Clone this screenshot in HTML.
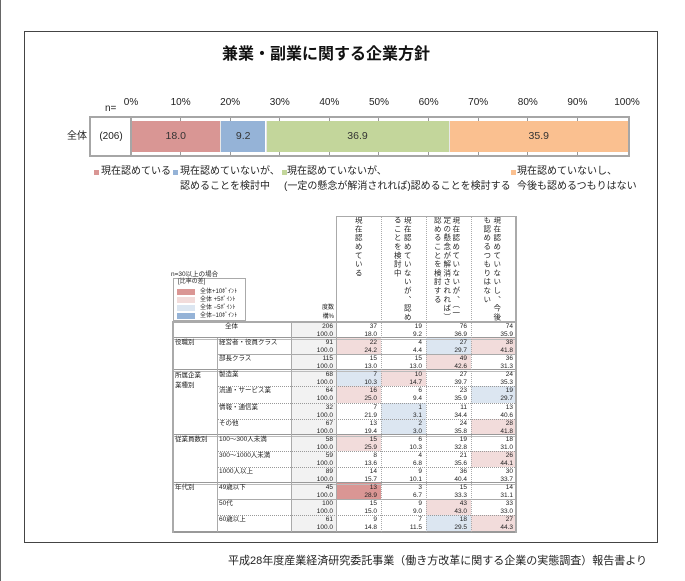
<!DOCTYPE html>
<html><head><meta charset="utf-8">
<style>
*{margin:0;padding:0;box-sizing:border-box}
body{width:685px;height:581px;background:#fff;overflow:hidden;font-family:"Liberation Sans","Noto Sans CJK JP",sans-serif;color:#222}
#pg{position:relative;width:685px;height:581px;overflow:hidden}
.a{position:absolute;white-space:nowrap}
.box{position:absolute;left:24px;top:31px;width:634px;height:512px;border:1px solid #444}
.pct{position:absolute;top:96px;width:40px;margin-left:-20px;text-align:center;font-size:10px;line-height:14px;color:#222}
.tk{position:absolute;width:1px;height:3px;background:#999}
.seg{position:absolute;top:121px;height:31px;font-size:10.5px;line-height:31px;text-align:center;color:#333}
.lg{position:absolute;font-size:10px;line-height:14px;color:#222;white-space:nowrap}
.sq{position:absolute;top:170px;width:5px;height:5px}
.s{position:absolute;font-size:6.5px;line-height:8px;white-space:nowrap;color:#222}
.n{position:absolute;font-size:6.5px;line-height:8px;text-align:right;white-space:nowrap;color:#222}
.v{position:absolute;top:216px;writing-mode:vertical-rl;font-size:7.5px;line-height:8px;width:8px;letter-spacing:1.3px;white-space:nowrap;color:#222}
.hl{position:absolute;height:0;border-top:1px dotted #999}
.dl{position:absolute;height:3px;border-top:1px solid #999;border-bottom:1px solid #bbb}
.vl{position:absolute;width:0}
.lp{position:absolute;background:#F2DCDB}
.lb{position:absolute;background:#DCE6F1}
.dp{position:absolute;background:#DA9694}
</style></head><body><div id="pg">
<div class="a" style="left:0;top:0;width:1px;height:581px;background:#666"></div>
<div class="box"></div>
<div class="a" style="left:0;width:652px;top:45px;text-align:center;font-size:16px;line-height:20px;font-weight:bold;color:#111">兼業・副業に関する企業方針</div>

<!-- bar chart -->
<div class="a" style="left:105px;top:102px;font-size:10px;line-height:14px">n=</div>
<div class="pct" style="left:131px">0%</div>
<div class="pct" style="left:180.6px">10%</div>
<div class="pct" style="left:230.2px">20%</div>
<div class="pct" style="left:279.8px">30%</div>
<div class="pct" style="left:329.4px">40%</div>
<div class="pct" style="left:379px">50%</div>
<div class="pct" style="left:428.6px">60%</div>
<div class="pct" style="left:478.2px">70%</div>
<div class="pct" style="left:527.8px">80%</div>
<div class="pct" style="left:577.4px">90%</div>
<div class="pct" style="left:627px">100%</div>

<div class="a" style="left:89px;top:116px;width:541px;height:41px;border:2px solid #A6A6A6;background:#fff"></div>
<div class="a" style="left:130px;top:116px;width:2px;height:41px;background:#A6A6A6"></div>
<div class="seg" style="left:131.6px;width:88.3px;background:#D99694">18.0</div>
<div class="seg" style="left:219.9px;width:45.6px;background:#95B3D7;border-left:1px solid #e8e8e8">9.2</div>
<div class="seg" style="left:265.5px;width:183px;background:#C3D69B;border-left:1px solid #e8e8e8">36.9</div>
<div class="seg" style="left:448.5px;width:179.5px;background:#FAC090;border-left:1px solid #e8e8e8">35.9</div>
<div class="tk" style="left:180px;top:118px"></div><div class="tk" style="left:180px;top:152px"></div>
<div class="tk" style="left:230px;top:118px"></div><div class="tk" style="left:230px;top:152px"></div>
<div class="tk" style="left:279px;top:118px"></div><div class="tk" style="left:279px;top:152px"></div>
<div class="tk" style="left:329px;top:118px"></div><div class="tk" style="left:329px;top:152px"></div>
<div class="tk" style="left:378px;top:118px"></div><div class="tk" style="left:378px;top:152px"></div>
<div class="tk" style="left:428px;top:118px"></div><div class="tk" style="left:428px;top:152px"></div>
<div class="tk" style="left:478px;top:118px"></div><div class="tk" style="left:478px;top:152px"></div>
<div class="tk" style="left:527px;top:118px"></div><div class="tk" style="left:527px;top:152px"></div>
<div class="tk" style="left:577px;top:118px"></div><div class="tk" style="left:577px;top:152px"></div>
<div class="a" style="left:67px;top:130px;font-size:10px;line-height:14px">全体</div>
<div class="a" style="left:92px;width:38px;top:130px;text-align:center;font-size:10px;line-height:14px">(206)</div>

<!-- legend -->
<div class="sq" style="left:94px;background:#D99694"></div>
<div class="lg" style="left:101px;top:165px">現在認めている</div>
<div class="sq" style="left:172.5px;background:#95B3D7"></div>
<div class="lg" style="left:180px;top:165px">現在認めていないが、</div>
<div class="lg" style="left:180px;top:180px">認めることを検討中</div>
<div class="sq" style="left:281.5px;background:#C3D69B"></div>
<div class="lg" style="left:287px;top:165px">現在認めていないが、</div>
<div class="lg" style="left:284px;top:180px">(一定の懸念が解消されれば)認めることを検討する</div>
<div class="sq" style="left:511px;background:#FAC090"></div>
<div class="lg" style="left:517px;top:165px">現在認めていないし、</div>
<div class="lg" style="left:517px;top:180px">今後も認めるつもりはない</div>

<!-- table legend -->
<div class="s" style="left:171px;top:271px">n=30以上の場合</div>
<div class="a" style="left:173px;top:278px;width:73px;height:43px;border:1px solid #aaa"></div>
<div class="s" style="left:178px;top:278px;font-size:6px">[比率の差]</div>
<div class="a" style="left:177px;top:289px;width:18px;height:6px;background:#DA9694"></div>
<div class="a" style="left:177px;top:296.5px;width:18px;height:6px;background:#F2DCDB"></div>
<div class="a" style="left:177px;top:305px;width:18px;height:6px;background:#DCE6F1"></div>
<div class="a" style="left:177px;top:313px;width:18px;height:6px;background:#95B3D7"></div>
<div class="s" style="left:200px;top:288px;font-size:6px">全体+10ﾎﾟｲﾝﾄ</div>
<div class="s" style="left:200px;top:295.5px;font-size:6px">全体 +5ﾎﾟｲﾝﾄ</div>
<div class="s" style="left:200px;top:304px;font-size:6px">全体 −5ﾎﾟｲﾝﾄ</div>
<div class="s" style="left:200px;top:312px;font-size:6px">全体−10ﾎﾟｲﾝﾄ</div>

<!-- header -->
<div class="n" style="left:300px;width:34px;top:304px;font-size:6px">度数</div>
<div class="n" style="left:300px;width:34px;top:313px;font-size:6px">構%</div>
<div class="v" style="left:354.3px">現在認めている</div>
<div class="v" style="left:403.3px">現在認めていないが、認め</div>
<div class="v" style="left:393.3px">ることを検討中</div>
<div class="v" style="left:451.7px">現在認めていないが、（一</div>
<div class="v" style="left:442.7px">定の懸念が解消されれば）</div>
<div class="v" style="left:433.3px">認めることを検討する</div>
<div class="v" style="left:492.7px">現在認めていないし、今後</div>
<div class="v" style="left:482.7px">も認めるつもりはない</div>

<!-- backgrounds -->
<div class="a" style="left:291px;top:322px;width:45px;height:210px;background:#F2F2F2"></div>
<div class="lp" style="left:336px;top:338px;width:45px;height:16px"></div>
<div class="lb" style="left:426px;top:338px;width:45px;height:16px"></div>
<div class="lp" style="left:471px;top:338px;width:44px;height:16px"></div>
<div class="lp" style="left:426px;top:354px;width:45px;height:16px"></div>
<div class="lb" style="left:336px;top:370px;width:45px;height:16px"></div>
<div class="lp" style="left:381px;top:370px;width:45px;height:16px"></div>
<div class="lp" style="left:336px;top:386px;width:45px;height:17px"></div>
<div class="lb" style="left:471px;top:386px;width:44px;height:17px"></div>
<div class="lb" style="left:381px;top:403px;width:45px;height:16px"></div>
<div class="lb" style="left:381px;top:419px;width:45px;height:16px"></div>
<div class="lp" style="left:471px;top:419px;width:44px;height:16px"></div>
<div class="lp" style="left:336px;top:435px;width:45px;height:16px"></div>
<div class="lp" style="left:471px;top:451px;width:44px;height:16px"></div>
<div class="dp" style="left:336px;top:483px;width:45px;height:16px"></div>
<div class="lp" style="left:426px;top:499px;width:45px;height:16px"></div>
<div class="lb" style="left:426px;top:515px;width:45px;height:17px"></div>
<div class="lp" style="left:471px;top:515px;width:44px;height:17px"></div>

<!-- lines -->
<div class="a" style="left:336px;top:216px;width:179px;height:1px;background:#aaa"></div>
<div class="a" style="left:172px;top:321px;width:343px;height:2px;background:#aaa"></div>
<div class="dl" style="left:172px;top:337px;width:343px"></div>
<div class="hl" style="left:217px;top:354px;width:298px;border-top-style:solid;border-color:#aaa"></div>
<div class="dl" style="left:172px;top:369px;width:343px"></div>
<div class="hl" style="left:217px;top:386px;width:298px"></div>
<div class="hl" style="left:217px;top:403px;width:298px"></div>
<div class="hl" style="left:217px;top:419px;width:298px"></div>
<div class="dl" style="left:172px;top:434px;width:343px"></div>
<div class="hl" style="left:217px;top:451px;width:298px"></div>
<div class="hl" style="left:217px;top:467px;width:298px"></div>
<div class="dl" style="left:172px;top:482px;width:343px"></div>
<div class="hl" style="left:217px;top:499px;width:298px;border-top-style:solid;border-color:#aaa"></div>
<div class="hl" style="left:217px;top:515px;width:298px"></div>
<div class="a" style="left:172px;top:531px;width:345px;height:2px;background:#999"></div>
<div class="a" style="left:172px;top:322px;width:2px;height:211px;background:#aaa"></div>
<div class="a" style="left:216.5px;top:338px;width:1px;height:194px;background:#aaa"></div>
<div class="a" style="left:290.5px;top:322px;width:1px;height:210px;background:#aaa"></div>
<div class="a" style="left:335.5px;top:216px;width:1px;height:316px;background:#aaa"></div>
<div class="vl" style="left:381px;top:216px;height:316px;border-left:1px dotted #aaa"></div>
<div class="vl" style="left:426px;top:216px;height:316px;border-left:1px dotted #aaa"></div>
<div class="vl" style="left:471px;top:216px;height:316px;border-left:1px dotted #aaa"></div>
<div class="a" style="left:515px;top:216px;width:2px;height:317px;background:#aaa"></div>

<!-- row labels -->
<div class="s" style="left:172px;width:119px;text-align:center;top:323px">全体</div>
<div class="s" style="left:175px;top:339px">役職別</div>
<div class="s" style="left:175px;top:371px;line-height:10px">所属企業<br>業種別</div>
<div class="s" style="left:175px;top:436px">従業員数別</div>
<div class="s" style="left:175px;top:484px">年代別</div>
<div class="s" style="left:219px;top:339px">経営者・役員クラス</div>
<div class="s" style="left:219px;top:355px">部長クラス</div>
<div class="s" style="left:219px;top:371px">製造業</div>
<div class="s" style="left:219px;top:387px">流通・サービス業</div>
<div class="s" style="left:219px;top:404px">情報・通信業</div>
<div class="s" style="left:219px;top:420px">その他</div>
<div class="s" style="left:219px;top:436px">100～300人未満</div>
<div class="s" style="left:219px;top:452px">300～1000人未満</div>
<div class="s" style="left:219px;top:468px">1000人以上</div>
<div class="s" style="left:219px;top:484px">49歳以下</div>
<div class="s" style="left:219px;top:500px">50代</div>
<div class="s" style="left:219px;top:516px">60歳以上</div>

<!-- numbers -->
<div class="n" style="left:293px;width:40px;top:323px">206<br>100.0</div>
<div class="n" style="left:337px;width:40px;top:323px">37<br>18.0</div>
<div class="n" style="left:382px;width:40px;top:323px">19<br>9.2</div>
<div class="n" style="left:427px;width:40px;top:323px">76<br>36.9</div>
<div class="n" style="left:473px;width:40px;top:323px">74<br>35.9</div>

<div class="n" style="left:293px;width:40px;top:339px">91<br>100.0</div>
<div class="n" style="left:337px;width:40px;top:339px">22<br>24.2</div>
<div class="n" style="left:382px;width:40px;top:339px">4<br>4.4</div>
<div class="n" style="left:427px;width:40px;top:339px">27<br>29.7</div>
<div class="n" style="left:473px;width:40px;top:339px">38<br>41.8</div>

<div class="n" style="left:293px;width:40px;top:355px">115<br>100.0</div>
<div class="n" style="left:337px;width:40px;top:355px">15<br>13.0</div>
<div class="n" style="left:382px;width:40px;top:355px">15<br>13.0</div>
<div class="n" style="left:427px;width:40px;top:355px">49<br>42.6</div>
<div class="n" style="left:473px;width:40px;top:355px">36<br>31.3</div>

<div class="n" style="left:293px;width:40px;top:371px">68<br>100.0</div>
<div class="n" style="left:337px;width:40px;top:371px">7<br>10.3</div>
<div class="n" style="left:382px;width:40px;top:371px">10<br>14.7</div>
<div class="n" style="left:427px;width:40px;top:371px">27<br>39.7</div>
<div class="n" style="left:473px;width:40px;top:371px">24<br>35.3</div>

<div class="n" style="left:293px;width:40px;top:387px">64<br>100.0</div>
<div class="n" style="left:337px;width:40px;top:387px">16<br>25.0</div>
<div class="n" style="left:382px;width:40px;top:387px">6<br>9.4</div>
<div class="n" style="left:427px;width:40px;top:387px">23<br>35.9</div>
<div class="n" style="left:473px;width:40px;top:387px">19<br>29.7</div>

<div class="n" style="left:293px;width:40px;top:404px">32<br>100.0</div>
<div class="n" style="left:337px;width:40px;top:404px">7<br>21.9</div>
<div class="n" style="left:382px;width:40px;top:404px">1<br>3.1</div>
<div class="n" style="left:427px;width:40px;top:404px">11<br>34.4</div>
<div class="n" style="left:473px;width:40px;top:404px">13<br>40.6</div>

<div class="n" style="left:293px;width:40px;top:420px">67<br>100.0</div>
<div class="n" style="left:337px;width:40px;top:420px">13<br>19.4</div>
<div class="n" style="left:382px;width:40px;top:420px">2<br>3.0</div>
<div class="n" style="left:427px;width:40px;top:420px">24<br>35.8</div>
<div class="n" style="left:473px;width:40px;top:420px">28<br>41.8</div>

<div class="n" style="left:293px;width:40px;top:436px">58<br>100.0</div>
<div class="n" style="left:337px;width:40px;top:436px">15<br>25.9</div>
<div class="n" style="left:382px;width:40px;top:436px">6<br>10.3</div>
<div class="n" style="left:427px;width:40px;top:436px">19<br>32.8</div>
<div class="n" style="left:473px;width:40px;top:436px">18<br>31.0</div>

<div class="n" style="left:293px;width:40px;top:452px">59<br>100.0</div>
<div class="n" style="left:337px;width:40px;top:452px">8<br>13.6</div>
<div class="n" style="left:382px;width:40px;top:452px">4<br>6.8</div>
<div class="n" style="left:427px;width:40px;top:452px">21<br>35.6</div>
<div class="n" style="left:473px;width:40px;top:452px">26<br>44.1</div>

<div class="n" style="left:293px;width:40px;top:468px">89<br>100.0</div>
<div class="n" style="left:337px;width:40px;top:468px">14<br>15.7</div>
<div class="n" style="left:382px;width:40px;top:468px">9<br>10.1</div>
<div class="n" style="left:427px;width:40px;top:468px">36<br>40.4</div>
<div class="n" style="left:473px;width:40px;top:468px">30<br>33.7</div>

<div class="n" style="left:293px;width:40px;top:484px">45<br>100.0</div>
<div class="n" style="left:337px;width:40px;top:484px">13<br>28.9</div>
<div class="n" style="left:382px;width:40px;top:484px">3<br>6.7</div>
<div class="n" style="left:427px;width:40px;top:484px">15<br>33.3</div>
<div class="n" style="left:473px;width:40px;top:484px">14<br>31.1</div>

<div class="n" style="left:293px;width:40px;top:500px">100<br>100.0</div>
<div class="n" style="left:337px;width:40px;top:500px">15<br>15.0</div>
<div class="n" style="left:382px;width:40px;top:500px">9<br>9.0</div>
<div class="n" style="left:427px;width:40px;top:500px">43<br>43.0</div>
<div class="n" style="left:473px;width:40px;top:500px">33<br>33.0</div>

<div class="n" style="left:293px;width:40px;top:516px">61<br>100.0</div>
<div class="n" style="left:337px;width:40px;top:516px">9<br>14.8</div>
<div class="n" style="left:382px;width:40px;top:516px">7<br>11.5</div>
<div class="n" style="left:427px;width:40px;top:516px">18<br>29.5</div>
<div class="n" style="left:473px;width:40px;top:516px">27<br>44.3</div>

<!-- source -->
<div class="a" style="left:200px;width:447px;top:554px;text-align:right;font-size:11px;line-height:15px;color:#222">平成28年度産業経済研究委託事業（働き方改革に関する企業の実態調査）報告書より</div>
</div></body></html>
